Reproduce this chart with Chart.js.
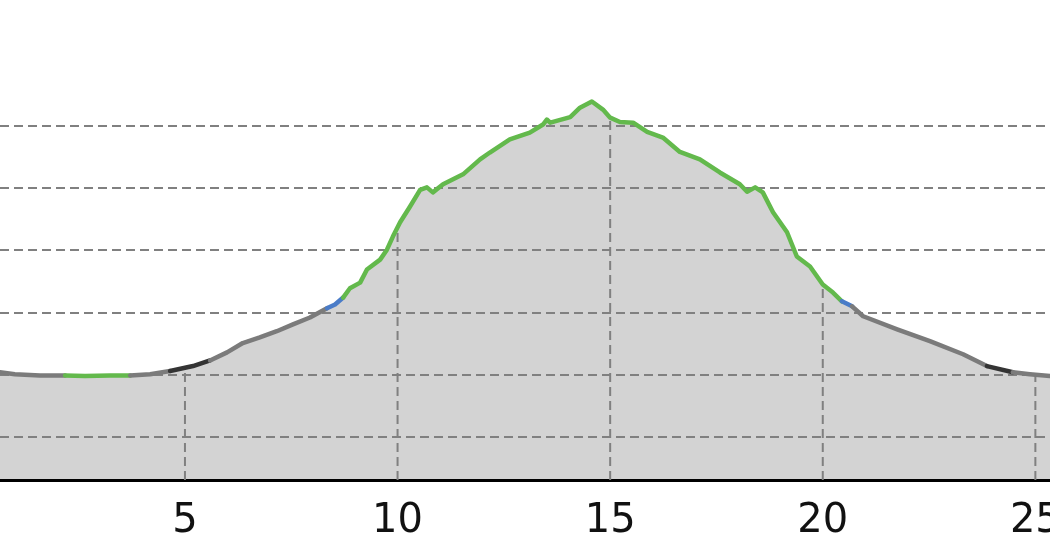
<!DOCTYPE html>
<html>
<head>
<meta charset="utf-8">
<script src="https://cdn.jsdelivr.net/npm/chart.js@4/dist/chart.umd.min.js"></script>
<style>
  html, body { margin: 0; padding: 0; background: #fff; overflow: hidden; }
  #wrap { position: relative; width: 1100px; height: 578px; }
</style>
</head>
<body>
<div id="wrap"><canvas id="profile"></canvas></div>
<script>
// -------------------------
// DATA (distance in km, elevation in m)
// -------------------------
const distance = [0.65, 1.00, 1.59, 2.18, 2.65, 3.24, 3.71, 4.18, 4.65, 5.19, 5.59, 5.99, 6.36, 6.76, 7.16, 7.54, 7.94, 8.34, 8.53, 8.72,
  8.88, 9.12, 9.28, 9.59, 9.75, 9.89, 10.06, 10.29, 10.53, 10.69, 10.83, 11.07, 11.54, 11.94, 12.17, 12.64, 13.11, 13.42, 13.51, 13.59,
  14.06, 14.29, 14.57, 14.83, 15.00, 15.23, 15.54, 15.87, 16.24, 16.64, 17.11, 17.58, 18.05, 18.22, 18.41, 18.59, 18.83, 19.16, 19.39, 19.70,
  20.00, 20.24, 20.45, 20.69, 20.95, 21.75, 22.52, 23.30, 23.86, 24.47, 24.87, 25.34, 25.93, 26.52];
const elevation = [204, 201, 199, 199, 198, 199, 199, 201, 206, 214, 223, 236, 251, 260, 270, 281, 292, 307, 313, 324,
  339, 348, 369, 385, 401, 422, 445, 470, 497, 501, 493, 506, 522, 546, 557, 578, 589, 602, 610, 605,
  614, 629, 639, 626, 613, 606, 605, 590, 581, 558, 546, 525, 506, 494, 501, 493, 461, 429, 390, 374,
  345, 332, 318, 310, 294, 273, 254, 233, 214, 204, 201, 198, 197, 197];
// segment class starting at each point: g = gray, G = green, b = blue, d = dark
const grade = ['g','g','g','G','G','G','g','g','d','d','g','g','g','g','g','g','g','b','b','G',
  'G','G','G','G','G','G','G','G','G','G','G','G','G','G','G','G','G','G','G','G',
  'G','G','G','G','G','G','G','G','G','G','G','G','G','G','G','G','G','G','G','G',
  'G','G','b','g','g','g','g','g','d','g','g','g','g','g'];
const gradeColors = { g: '#7b7b7b', G: '#63b94c', b: '#4a7cc8', d: '#343434' };

// km markers: x position and elevation where the dashed marker meets the profile
const markerKm = [5, 10, 15, 20, 25];
const markerElev = [211, 437, 613, 345, 200];

const xTicks = [5, 10, 15, 20, 25];
const yGrid = [100, 200, 300, 400, 500, 600];
const yMin = 31, yMax = 802;

// -------------------------
// Chart
// -------------------------
const profilePoints = distance.map((d, i) => ({ x: d, y: elevation[i] }));

const markerSets = markerKm.map((km, i) => ({
  data: [{ x: km, y: yMin }, { x: km, y: markerElev[i] }],
  borderColor: '#808080',
  borderWidth: 2,
  borderDash: [9, 5],
  pointRadius: 0,
  fill: false,
  order: 2
}));

new Chart(document.getElementById('profile'), {
  type: 'line',
  data: {
    datasets: [{
      // coloured profile line
      data: profilePoints,
      borderColor: '#7b7b7b',
      borderWidth: 4.5,
      borderCapStyle: 'round',
      borderJoinStyle: 'round',
      fill: false,
      pointRadius: 0,
      tension: 0,
      order: 0,
      segment: { borderColor: ctx => gradeColors[grade[ctx.p0DataIndex]] }
    }, {
      // area under the profile, drawn before the grid
      data: profilePoints,
      borderWidth: 0,
      borderColor: 'rgba(0,0,0,0)',
      backgroundColor: '#d3d3d3',
      fill: 'start',
      pointRadius: 0,
      tension: 0,
      order: 3
    }, ...markerSets]
  },
  options: {
    responsive: true,
    maintainAspectRatio: false,
    animation: false,
    layout: { padding: { left: 0, right: 0, top: 0, bottom: 14 } },
    plugins: {
      legend: { display: false },
      tooltip: { enabled: false },
      filler: { drawTime: 'beforeDraw' }
    },
    scales: {
      x: {
        type: 'linear',
        min: distance[0],
        max: distance[distance.length - 1],
        afterBuildTicks: s => { s.ticks = xTicks.map(v => ({ value: v })); },
        grid: { display: false, drawTicks: false },
        border: { display: true, color: '#000', width: 3 },
        ticks: { color: '#111', padding: 18, maxRotation: 0, autoSkip: false,
          font: { family: 'DejaVu Sans', size: 40 } }
      },
      y: {
        min: yMin,
        max: yMax,
        afterBuildTicks: s => { s.ticks = yGrid.map(v => ({ value: v })); },
        afterFit: s => { s.width = 0; },
        grid: { color: '#808080', lineWidth: 2, drawTicks: false },
        border: { display: false, dash: [9, 5] },
        ticks: { display: false }
      }
    }
  }
});
</script>
</body>
</html>
